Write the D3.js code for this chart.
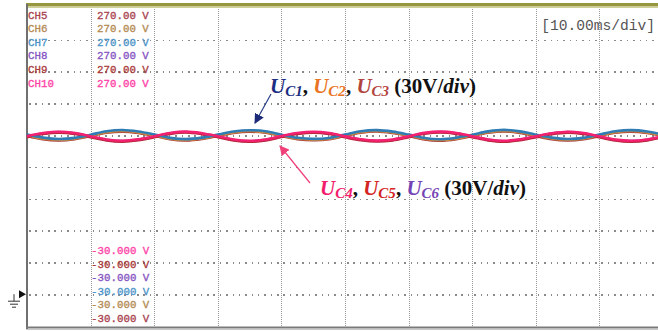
<!DOCTYPE html>
<html>
<head>
<meta charset="utf-8">
<script src="https://cdn.jsdelivr.net/npm/d3@7"></script>
<style>
  body { margin: 0; background: #fff; }
  svg { display: block; }
  .grid line { shape-rendering: crispEdges; }
  .mono { font-family: "Liberation Mono", "DejaVu Sans Mono", monospace; }
  .ann { font-family: "Liberation Serif", "DejaVu Serif", serif; font-weight: bold; }
</style>
</head>
<body>
<svg id="scope"></svg>
<script>
// time in ms, values in V (scope: 10 ms/div, 30 V/div)
const time = [0, 2.5, 5, 7.5, 10, 12.5, 15, 17.5, 20, 22.5, 25, 27.5, 30, 32.5, 35, 37.5,
  40, 42.5, 45, 47.5, 50, 52.5, 55, 57.5, 60, 62.5, 65, 67.5, 70, 72.5, 75, 77.5,
  80, 82.5, 85, 87.5, 90, 92.5, 95, 97.5, 100];

const uc1 = [150.6,147.7,146.4,147.5,150.5,153.7,154.9,153.5,
  150.7,147.5,146.3,147.7,150.6,153.5,154.7,153.7,
  150.4,147.6,146.5,147.4,150.7,153.8,154.8,153.4,
  150.6,147.4,146.2,147.6,150.5,153.6,155.0,153.6,
  150.5,147.7,146.4,147.5,150.6,153.7,154.8,153.5,150.6];
const uc2 = [149.8,146.9,145.7,146.8,149.7,152.8,154.0,152.7,
  149.9,146.8,145.6,146.9,149.8,152.7,153.9,152.8,
  149.7,146.9,145.8,146.7,149.9,152.9,154.0,152.6,
  149.8,146.7,145.5,146.8,149.7,152.8,154.1,152.8,
  149.7,146.9,145.7,146.7,149.8,152.9,154.0,152.7,149.8];
const uc3 = [149.3,146.2,145.1,146.3,149.2,152.3,153.4,152.1,
  149.4,146.1,145.0,146.4,149.3,152.2,153.3,152.3,
  149.2,146.3,145.2,146.1,149.4,152.4,153.5,152.0,
  149.3,146.0,144.9,146.3,149.2,152.3,153.6,152.2,
  149.2,146.2,145.1,146.2,149.3,152.4,153.4,152.1,149.3];
const uc4 = [149.1,152.0,153.3,152.1,149.0,146.0,144.8,146.1,
  149.0,152.1,153.4,151.9,149.1,145.9,144.7,146.0,
  149.2,152.0,153.2,152.0,148.9,146.1,144.9,145.9,
  149.0,152.2,153.4,152.1,149.1,146.0,144.7,146.1,
  149.0,151.9,153.3,152.0,149.0,145.9,144.8,146.0,149.1];
const uc5 = [148.2,151.1,152.4,151.2,148.1,145.1,143.9,145.2,
  148.1,151.2,152.5,151.0,148.2,145.0,143.8,145.1,
  148.3,151.1,152.3,151.1,148.0,145.2,144.0,145.0,
  148.1,151.3,152.5,151.2,148.2,145.1,143.8,145.2,
  148.1,151.0,152.4,151.1,148.1,145.0,143.9,145.1,148.2];
const uc6 = [148.7,151.6,152.9,151.7,148.6,145.6,144.4,145.7,
  148.6,151.7,153.0,151.5,148.7,145.5,144.3,145.6,
  148.8,151.6,152.8,151.6,148.5,145.7,144.5,145.5,
  148.6,151.8,153.0,151.7,148.7,145.6,144.3,145.7,
  148.6,151.5,152.9,151.6,148.6,145.5,144.4,145.6,148.7];

const timeTicks = [10, 20, 30, 40, 50, 60, 70, 80, 90];
const voltTicks = [0, 30, 60, 90, 120, 150, 180, 210, 240];

const chNames = ["CH5", "CH6", "CH7", "CH8", "CH9", "CH10"];
const chColors = ["#a8404e", "#b38a52", "#4a93c8", "#8552c2", "#a83a3a", "#ff40a6"];
const topLabel = "270.00 V";
const bottomLabel = "-30.000 V";
const timebase = "[10.00ms/div]";

const w = 658, h = 331;
const svg = d3.select("#scope").attr("width", w).attr("height", h);

const x = d3.scaleLinear().domain([0, 100]).range([27, 663]);
const y = d3.scaleLinear().domain([-30, 270]).range([326, 8]);

// grid
svg.append("g")
  .attr("class", "grid")
  .attr("transform", "translate(0,326)")
  .call(d3.axisBottom(x).tickValues(timeTicks).tickSize(-318).tickFormat(""))
  .call(g => g.select(".domain").remove())
  .selectAll("line")
  .attr("stroke", "#9a9a9a")
  .attr("stroke-width", 1)
  .attr("stroke-dasharray", "1,1");

svg.append("g")
  .attr("class", "grid")
  .attr("transform", "translate(27,0)")
  .call(d3.axisLeft(y).tickValues(voltTicks).tickSize(-636).tickFormat(""))
  .call(g => g.select(".domain").remove())
  .selectAll("line")
  .attr("stroke", "#8a8a8a")
  .attr("stroke-width", 1.6)
  .attr("stroke-dasharray", "1.5,4.86")
  .attr("stroke-dashoffset", -2);

// frame
svg.append("rect").attr("x", 26).attr("y", 3).attr("width", w - 26).attr("height", 3.5).attr("fill", "#979740");
svg.append("rect").attr("x", 26).attr("y", 6.5).attr("width", w - 26).attr("height", 1.5).attr("fill", "#cfcf98");
svg.append("line").attr("x1", 27).attr("x2", 27).attr("y1", 4).attr("y2", 329)
  .attr("stroke", "#707070").attr("stroke-width", 2);
svg.append("line").attr("x1", 26).attr("x2", w).attr("y1", 327.5).attr("y2", 327.5)
  .attr("stroke", "#7a7a7a").attr("stroke-width", 2);
svg.append("line").attr("x1", 26).attr("x2", w).attr("y1", 329.5).attr("y2", 329.5)
  .attr("stroke", "#c8c8c8").attr("stroke-width", 1);

// traces
const line = d3.line()
  .x((d, i) => x(time[i]))
  .y(d => y(d))
  .curve(d3.curveCatmullRom);

const traces = [
  { data: uc6, color: "#8552c2" },
  { data: uc3, color: "#a83a3a" },
  { data: uc2, color: "#d28a3a" },
  { data: uc5, color: "#b8283a" },
  { data: uc1, color: "#2f7db4" },
  { data: uc4, color: "#f2206e" }
];

svg.append("g").selectAll("path")
  .data(traces)
  .join("path")
  .attr("d", d => line(d.data))
  .attr("fill", "none")
  .attr("stroke", d => d.color)
  .attr("stroke-width", 2.6);

// channel labels
const labels = svg.append("g").attr("class", "mono").attr("font-size", "10.8px")
  .attr("stroke-width", 0.3);
labels.selectAll(".chn")
  .data(chNames)
  .join("text")
  .attr("x", 28)
  .attr("y", (d, i) => 18.5 + i * 13.6)
  .attr("fill", (d, i) => chColors[i])
  .attr("stroke", (d, i) => chColors[i])
  .text(d => d);
labels.selectAll(".top")
  .data(chNames)
  .join("text")
  .attr("x", 97)
  .attr("y", (d, i) => 18.5 + i * 13.6)
  .attr("fill", (d, i) => chColors[i])
  .attr("stroke", (d, i) => chColors[i])
  .text(topLabel);
labels.selectAll(".bot")
  .data(chNames.slice().reverse())
  .join("text")
  .attr("x", 91)
  .attr("y", (d, i) => 254 + i * 13.5)
  .attr("fill", d => chColors[chNames.indexOf(d)])
  .attr("stroke", d => chColors[chNames.indexOf(d)])
  .text(bottomLabel);

svg.append("text")
  .attr("class", "mono")
  .attr("x", 655)
  .attr("y", 30)
  .attr("text-anchor", "end")
  .attr("font-size", "14.6px")
  .attr("fill", "#555")
  .text(timebase);

// ground marker
const gy = y(0);
svg.append("path")
  .attr("d", `M19,${gy - 4}L26,${gy}L19,${gy + 4}Z`)
  .attr("fill", "#111");
svg.append("path")
  .attr("d", `M14,${gy}V${gy + 7}M8,${gy + 7}H20M10,${gy + 10}H18M12,${gy + 13}H16`)
  .attr("stroke", "#333").attr("stroke-width", 1).attr("fill", "none");

// annotations
const defs = svg.append("defs");
function marker(id, color) {
  defs.append("marker")
    .attr("id", id)
    .attr("viewBox", "0 0 10 10")
    .attr("refX", 9).attr("refY", 5)
    .attr("markerWidth", 10).attr("markerHeight", 10)
    .attr("markerUnits", "userSpaceOnUse")
    .attr("orient", "auto")
    .append("path").attr("d", "M0,0L10,5L0,10Z").attr("fill", color);
}
marker("arrNavy", "#1c2a78");
marker("arrPink", "#f0407a");

svg.append("line").attr("x1", 271).attr("y1", 94).attr("x2", 255).attr("y2", 123)
  .attr("stroke", "#2a3f8a").attr("stroke-width", 1.2).attr("marker-end", "url(#arrNavy)");
svg.append("line").attr("x1", 310).attr("y1", 183).attr("x2", 280).attr("y2", 146)
  .attr("stroke", "#f0407a").attr("stroke-width", 1.2).attr("marker-end", "url(#arrPink)");

function annotate(x0, y0, subs, colors) {
  const t = svg.append("text").attr("class", "ann").attr("x", x0).attr("y", y0).attr("font-size", "21px");
  subs.forEach((s, i) => {
    t.append("tspan").attr("fill", colors[i]).attr("font-style", "italic").text("U");
    t.append("tspan").attr("fill", colors[i]).attr("font-style", "italic")
      .attr("font-size", "15px").attr("dy", 3).text(s);
    t.append("tspan").attr("dy", -3).attr("fill", "#111").text(i < subs.length - 1 ? ", " : " ");
  });
  t.append("tspan").attr("fill", "#111").text("(30V/");
  t.append("tspan").attr("fill", "#111").attr("font-style", "italic").text("div");
  t.append("tspan").attr("fill", "#111").text(")");
}
annotate(270, 93, ["C1", "C2", "C3"], ["#1c2f82", "#ea7424", "#b2443e"]);
annotate(320, 195, ["C4", "C5", "C6"], ["#f2206c", "#d42424", "#7444b4"]);
</script>
</body>
</html>
